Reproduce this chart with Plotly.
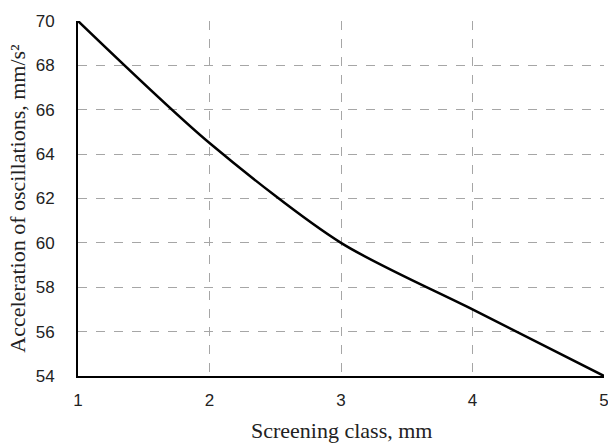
import plotly.graph_objects as go

screening_class = [1, 2, 3, 4, 5]
acceleration = [70, 64.5, 60, 57, 54]
x_ticks = [1, 2, 3, 4, 5]
y_ticks = [54, 56, 58, 60, 62, 64, 66, 68, 70]
x_title = "Screening class, mm"
y_title = "Acceleration of oscillations, mm/s²"

fig = go.Figure()
fig.add_trace(go.Scatter(
    x=screening_class, y=acceleration, mode="lines",
    line=dict(color="black", width=2.5, shape="spline", smoothing=0.8),
    showlegend=False, cliponaxis=False,
))

grid = dict(showgrid=True, gridcolor="#a6a6a6", griddash="dash", gridwidth=1)
tickfont = dict(family="Liberation Sans", size=17, color="#222")
titlefont = dict(family="Liberation Serif", size=22, color="#222")

fig.update_layout(
    width=608, height=443,
    margin=dict(l=78, r=4, t=21, b=67),
    paper_bgcolor="white", plot_bgcolor="white",
    xaxis=dict(range=[1, 5], tickvals=x_ticks, showline=True, linecolor="black",
               linewidth=2, zeroline=False, ticks="", tickfont=tickfont,
               ticklabelstandoff=8, ticklabeloverflow="allow", automargin=False,
               **grid),
    yaxis=dict(range=[54, 70], tickvals=y_ticks, showline=True, linecolor="black",
               linewidth=2, zeroline=False, ticks="", tickfont=tickfont,
               ticklabelstandoff=18, ticklabeloverflow="allow", automargin=False,
               title=dict(text=y_title, font=titlefont, standoff=4),
               **grid),
)
fig.add_annotation(text=x_title, xref="paper", yref="paper", x=0.5, y=0,
                   xanchor="center", yanchor="top", yshift=-40, showarrow=False,
                   font=titlefont)
fig.write_html("out.html")
